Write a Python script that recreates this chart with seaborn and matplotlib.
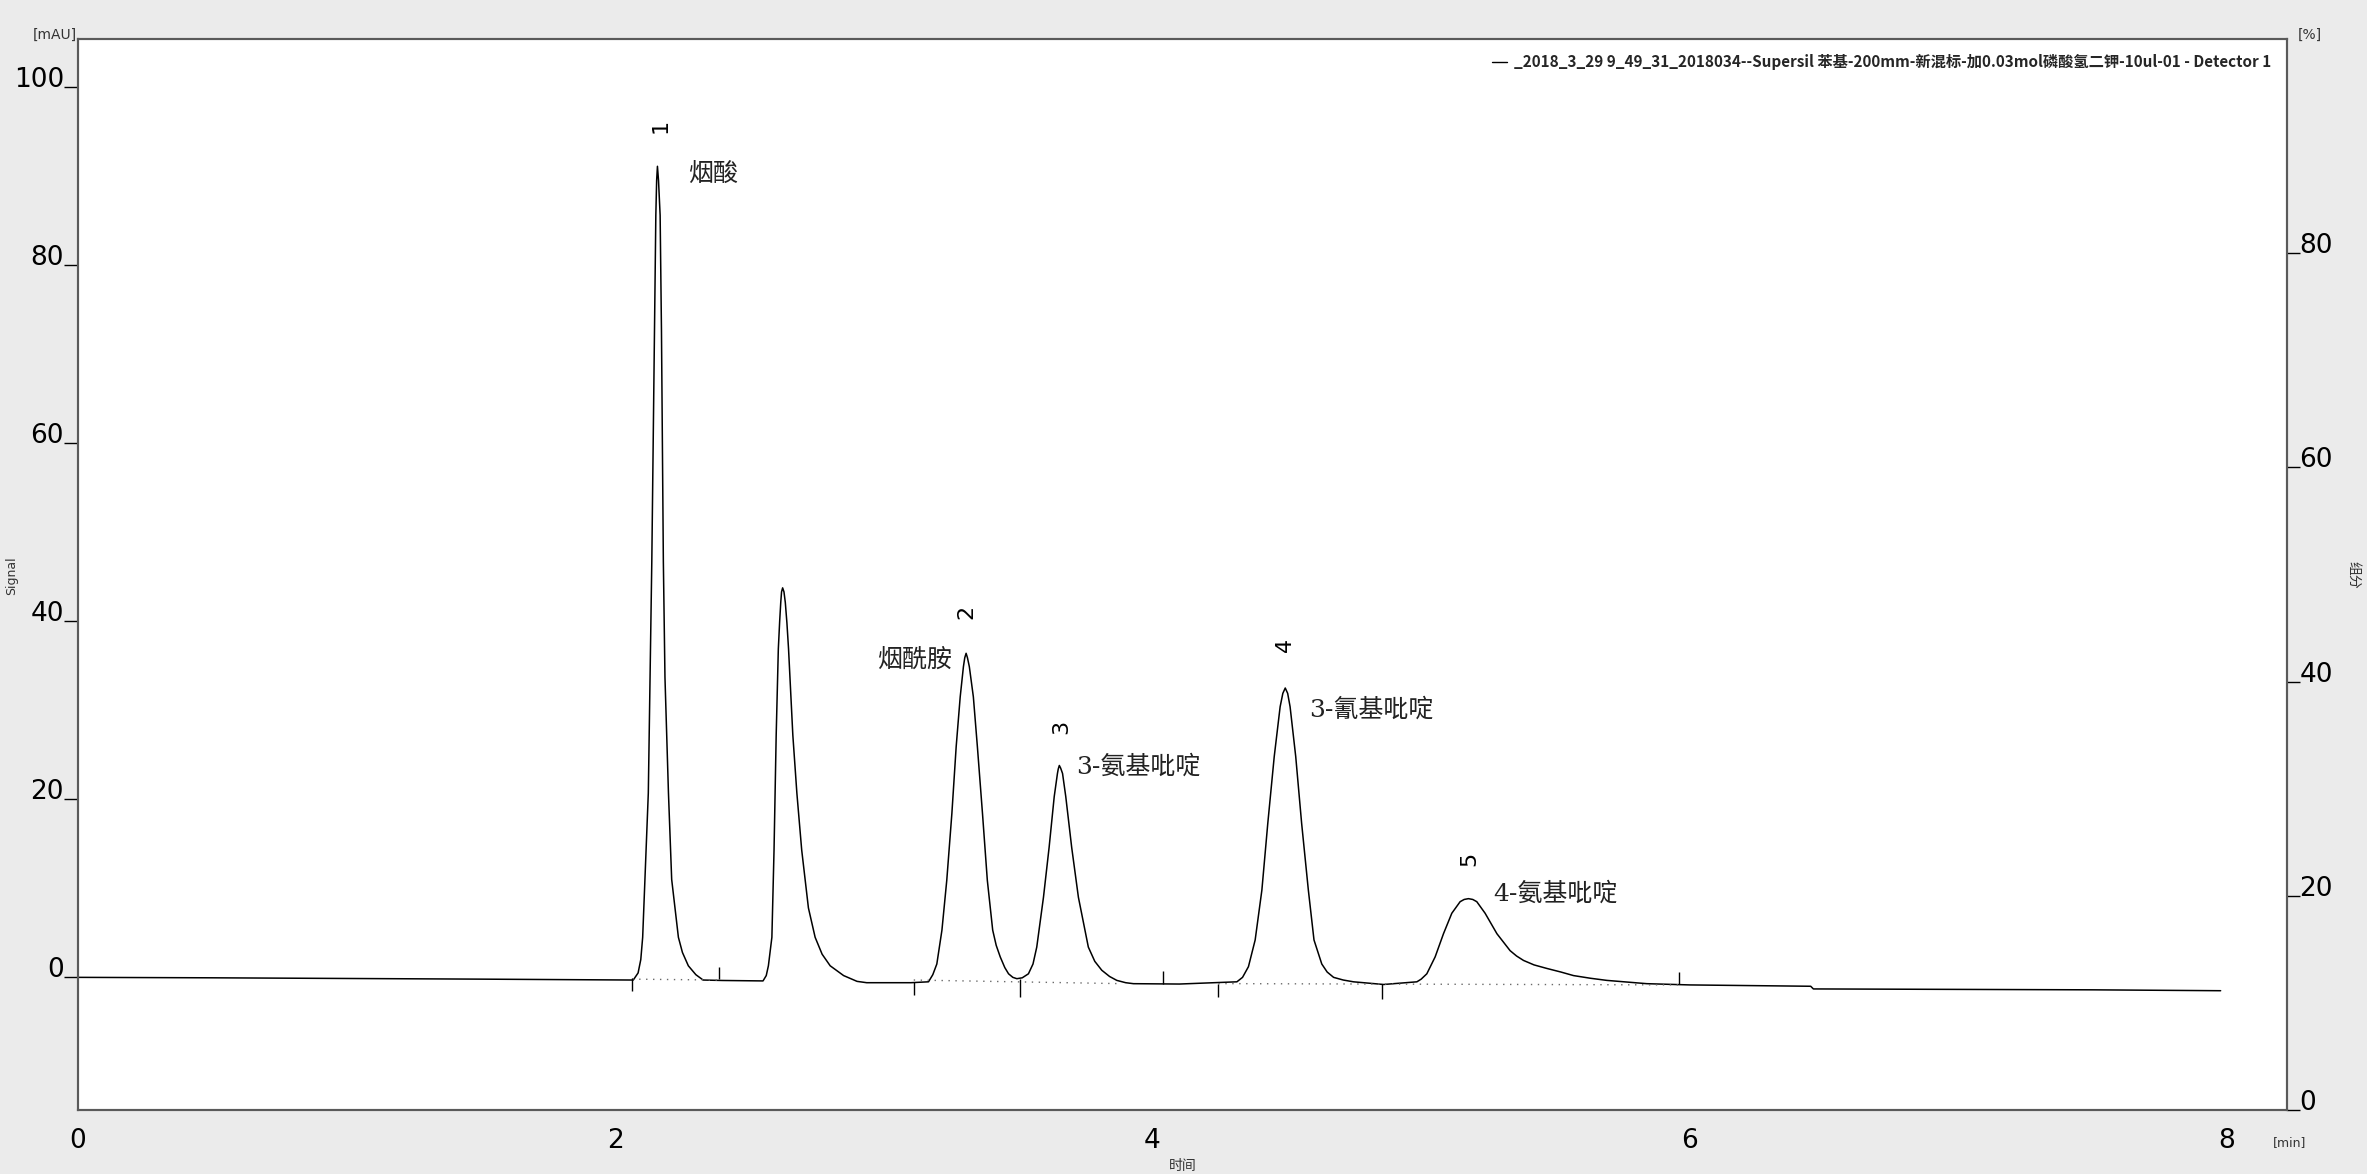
import numpy as np
import pandas as pd
import matplotlib
matplotlib.use("Agg")
import matplotlib.pyplot as plt
import seaborn as sns
from matplotlib.font_manager import FontProperties

# ---- chromatogram trace: retention time (min) and signal (mAU) ----
time_min = [
    0.000, 0.500, 1.000, 1.500, 2.000, 2.067,
    2.085, 2.095, 2.102, 2.123, 2.136, 2.146, 2.151, 2.154, 2.157, 2.161,
    2.167, 2.172, 2.179, 2.185, 2.198, 2.210, 2.235, 2.250, 2.272, 2.300,
    2.327, 2.400, 2.550,
    2.562, 2.570, 2.583, 2.591, 2.599, 2.607, 2.612, 2.616, 2.619, 2.623,
    2.628, 2.633, 2.639, 2.645, 2.661, 2.676, 2.694, 2.719, 2.744, 2.770,
    2.800, 2.850, 2.900, 2.936, 3.100, 3.166,
    3.182, 3.197, 3.216, 3.234, 3.253, 3.269, 3.284, 3.296, 3.301, 3.306,
    3.311, 3.318, 3.333, 3.348, 3.367, 3.385, 3.405, 3.418, 3.433, 3.450,
    3.464, 3.480, 3.495, 3.515, 3.538,
    3.555, 3.569, 3.594, 3.615, 3.634, 3.646, 3.649, 3.653, 3.658, 3.665,
    3.677, 3.699, 3.724, 3.761, 3.785, 3.811, 3.840, 3.867, 3.900, 3.929,
    4.100, 4.314,
    4.335, 4.357, 4.382, 4.407, 4.429, 4.453, 4.475, 4.485, 4.494, 4.503,
    4.512, 4.533, 4.555, 4.580, 4.601, 4.630, 4.650, 4.674, 4.710, 4.748,
    4.860, 4.984,
    5.000, 5.021, 5.052, 5.083, 5.114, 5.145, 5.160, 5.176, 5.192, 5.207,
    5.238, 5.282, 5.331, 5.355, 5.381, 5.420, 5.468, 5.520, 5.567, 5.630,
    5.691, 5.840, 6.000, 6.450, 6.460, 7.000, 7.500, 7.976,
]
signal_mau = [
    0.00, -0.05, -0.12, -0.20, -0.28, -0.30,
    0.5, 2.0, 4.5, 20.7, 46.7, 72.6, 85.6, 89.5, 91.1, 89.5,
    85.6, 72.6, 46.7, 33.7, 20.7, 11.0, 4.5, 2.8, 1.3, 0.3,
    -0.30, -0.35, -0.40,
    0.2, 1.3, 4.5, 14.3, 27.2, 36.9, 40.0, 42.1, 43.3, 43.75,
    43.3, 42.1, 39.8, 36.9, 27.2, 20.7, 14.3, 7.8, 4.5, 2.6,
    1.3, 0.2, -0.45, -0.60, -0.60, -0.50,
    0.3, 1.5, 5.3, 10.9, 18.4, 25.9, 31.5, 34.9, 35.9, 36.4,
    35.9, 34.9, 31.5, 25.9, 18.4, 10.9, 5.3, 3.6, 2.3, 1.1,
    0.4, 0.0, -0.15, -0.05, 0.4,
    1.5, 3.4, 9.0, 14.6, 20.3, 22.9, 23.4, 23.8, 23.5, 22.9,
    20.3, 14.6, 9.0, 3.4, 1.8, 0.8, 0.1, -0.34, -0.60, -0.71,
    -0.75, -0.50,
    0.0, 1.2, 4.2, 9.8, 17.3, 24.8, 30.4, 31.9, 32.5, 31.9,
    30.4, 24.8, 17.3, 9.8, 4.2, 1.5, 0.6, 0.0, -0.30, -0.50,
    -0.80, -0.50,
    -0.2, 0.4, 2.3, 4.9, 7.2, 8.5, 8.75, 8.84, 8.75, 8.5,
    7.2, 4.9, 3.0, 2.4, 1.9, 1.4, 1.0, 0.6, 0.2, -0.10,
    -0.34, -0.71, -0.85, -1.00, -1.30, -1.35, -1.40, -1.50,
]

# ---- integration markers (peak start / end) ----
marker_t = [2.063, 2.385, 3.111, 3.505, 4.040, 4.245, 4.855, 5.960]
marker_lo = [-1.5, -0.2, -2.0, -2.2, -0.7, -2.2, -2.4, -0.8]
marker_hi = [-0.1, 1.2, -0.56, -0.2, 0.7, -0.7, -0.8, 0.56]

# ---- dotted integration baselines ----
base_t0 = [2.063, 3.111, 4.245]
base_t1 = [2.385, 3.870, 5.960]
base_v0 = [-0.2, -0.3, -0.7]
base_v1 = [-0.3, -0.7, -0.85]

# ---- peak annotations ----
peak_no = ["1", "2", "3", "4", "5"]
peak_no_t = [2.167, 3.308, 3.662, 4.494, 5.180]
peak_no_v = [95.6, 41.0, 28.1, 37.3, 13.3]

compound = ["烟酸", "烟酰胺", "3-氨基吡啶", "3-氰基吡啶", "4-氨基吡啶"]
compound_t = [2.271, 3.253, 3.716, 4.583, 5.269]
compound_v = [90.2, 35.6, 23.6, 30.0, 9.4]
compound_ha = ["left", "right", "left", "left", "left"]

x_ticks = [0, 2, 4, 6, 8]
left_ticks = [0, 20, 40, 60, 80, 100]
right_ticks = [0, 20, 40, 60, 80]

trace_label = ("_2018_3_29 9_49_31_2018034--Supersil 苯基-200mm-新混标-"
               "加0.03mol磷酸氢二钾-10ul-01 - Detector 1")

sns.set_theme(style="white")
plt.rcParams["font.family"] = ["DejaVu Sans", "Noto Sans CJK SC"]

bg = "#ebebeb"
spine_c = "#5a5a5a"

fig = plt.figure(figsize=(23.67, 11.74), dpi=100, facecolor=bg)
ax = fig.add_axes([0.03295, 0.0545, 0.93325, 0.9123])
ax.set_facecolor("white")

df = pd.DataFrame({"time": time_min, "signal": signal_mau})
sns.lineplot(data=df, x="time", y="signal", ax=ax, color="black",
             linewidth=1.1, estimator=None, sort=False)
trace_line = ax.get_lines()[-1]

for t0, t1, v0, v1 in zip(base_t0, base_t1, base_v0, base_v1):
    ax.plot([t0, t1], [v0, v1], linestyle=(0, (1, 4)), color="#6a6a6a",
            linewidth=1.0)
ax.vlines(marker_t, marker_lo, marker_hi, color="black", linewidth=1.0)

for s, t, v in zip(peak_no, peak_no_t, peak_no_v):
    ax.text(t, v, s, rotation=90, ha="center", va="center", fontsize=16,
            color="black")

for s, t, v, ha in zip(compound, compound_t, compound_v, compound_ha):
    ax.text(t, v, s, ha=ha, va="center", fontsize=18, color="#222222",
            family=["DejaVu Serif", "Noto Sans CJK SC"])

ax.set_xlim(0, 8.223)
ax.set_ylim(-14.9, 105.4)
ax.set_xticks(x_ticks)
ax.set_xticklabels([str(v) for v in x_ticks])
ax.set_yticks(left_ticks)
ax.set_yticklabels([str(v) for v in left_ticks])
ax.tick_params(axis="x", direction="out", length=7, width=1.0, pad=6,
               labelsize=19, colors="black")
ax.tick_params(axis="y", direction="out", length=10, width=1.0, pad=0,
               labelsize=19, colors="black")
for lab in ax.get_yticklabels():
    lab.set_va("baseline")
ax.set_xlabel("")
ax.set_ylabel("")

ax2 = ax.twinx()
ax2.set_ylim(0, 100)
ax2.set_yticks(right_ticks)
ax2.set_yticklabels([str(v) for v in right_ticks])
ax2.tick_params(axis="y", direction="out", length=9, width=1.0, pad=0,
                labelsize=19, colors="black")
for lab in ax2.get_yticklabels():
    lab.set_va("baseline")
ax2.grid(False)
ax.grid(False)

for a in (ax, ax2):
    for sp in a.spines.values():
        sp.set_color(spine_c)
        sp.set_linewidth(1.5)
        sp.set_visible(True)

leg = ax.legend([trace_line], [trace_label], loc="upper right",
                frameon=False, handlelength=1.0, handletextpad=0.5,
                borderaxespad=0.6,
                prop=FontProperties(family=["Noto Sans CJK SC"],
                                    weight="bold", size=11))
for h in leg.legend_handles:
    h.set_linewidth(1.0)

# axis units and titles
fig.text(33 / 2367, 1 - 35 / 1174, "[mAU]", fontsize=10, color="#333333",
         ha="left", va="center")
fig.text(2298 / 2367, 1 - 35 / 1174, "[%]", fontsize=10, color="#333333",
         ha="left", va="center")
fig.text(2290 / 2367, 1 - 1143 / 1174, "[min]", fontsize=9, color="#333333",
         ha="center", va="center")
fig.text(1183 / 2367, 1 - 1166 / 1174, "时间", fontsize=10, color="#333333",
         ha="center", va="center", family=["Noto Sans CJK SC"])
fig.text(12 / 2367, 1 - 576 / 1174, "Signal", fontsize=9, color="#333333",
         ha="center", va="center", rotation=90)
fig.text(2354 / 2367, 1 - 575 / 1174, "组分", fontsize=10, color="#333333",
         ha="center", va="center", rotation=-90,
         family=["Noto Sans CJK SC"])

fig.savefig("out.png", dpi=100, facecolor=bg)
